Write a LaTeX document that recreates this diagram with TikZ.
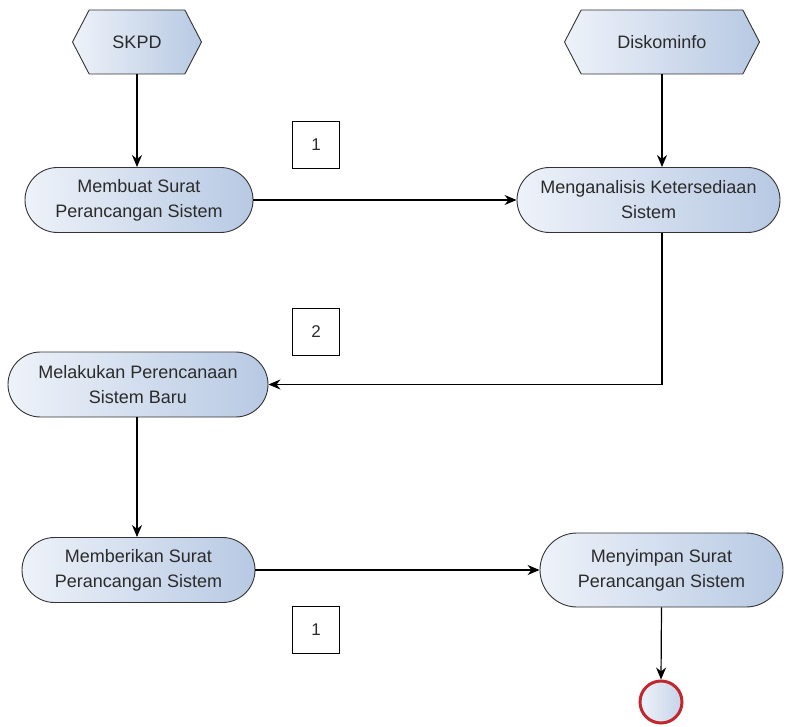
\documentclass[tikz,border=0pt]{standalone}
\usepackage{fontspec}
\setmainfont{Liberation Sans}
\usetikzlibrary{shapes.symbols,shapes.misc,arrows.meta}
\definecolor{txt}{HTML}{2B2B2B}
\definecolor{fillA}{HTML}{EEF2F9}
\definecolor{fillB}{HTML}{B7C9E3}
\definecolor{endred}{HTML}{C0282D}
\tikzset{
  base/.style={draw=black!80, line width=0.9pt, left color=fillA, right color=fillB, text=txt, font=\fontsize{18}{25}\selectfont, align=center, inner sep=0pt},
  hexa/.style={base, signal, signal to=west and east, signal pointer angle=125, minimum height=64pt},
  proc/.style={base, rounded rectangle, minimum height=65pt},
  numbox/.style={draw=black, line width=1pt, minimum width=47pt, minimum height=47pt, inner sep=0pt, font=\fontsize{17}{19}\selectfont, text=txt},
  endc/.style={circle, draw=endred, line width=3pt, left color=fillA, right color=fillB!80, minimum size=42pt, inner sep=0pt},
  arr/.style={draw=black, line width=1.2pt, -{Stealth[length=12pt,width=10pt]}}
}
\begin{document}
\begin{tikzpicture}[x=1pt,y=-1pt]
\useasboundingbox (0,0) rectangle (798,727);
\node[hexa, minimum width=129pt] (skpd) at (137,42) {SKPD};
\node[hexa, minimum width=195pt] (disk) at (662,42) {Diskominfo};
\node[proc, minimum width=228pt] (mem) at (139,200) {Membuat Surat\\Perancangan Sistem};
\node[proc, minimum width=263pt] (ana) at (648.5,200) {Menganalisis Ketersediaan\\Sistem};
\node[proc, minimum width=260pt] (mel) at (138,384.5) {Melakukan Perencanaan\\Sistem Baru};
\node[proc, minimum width=233pt] (beri) at (138.5,570) {Memberikan Surat\\Perancangan Sistem};
\node[proc, minimum width=243pt, minimum height=74pt] (simp) at (661.5,570) {Menyimpan Surat\\Perancangan Sistem};
\node[endc] (end) at (661,702) {};
\node[numbox] (n1) at (316,145) {1};
\node[numbox] (n2) at (316,332) {2};
\node[numbox] (n3) at (316,630) {1};
\draw[arr] (skpd.south) -- (skpd.south |- mem.north);
\draw[arr] (disk.south) -- (disk.south |- ana.north);
\draw[arr] (mem.east) -- (ana.west);
\draw[arr] (disk.south |- ana.south) |- (mel.east);
\draw[arr] (skpd.south |- mel.south) -- (skpd.south |- beri.north);
\draw[arr] (beri.east) -- (simp.west);
\draw[arr] (simp.south) -- (end.north);
\end{tikzpicture}
\end{document}
